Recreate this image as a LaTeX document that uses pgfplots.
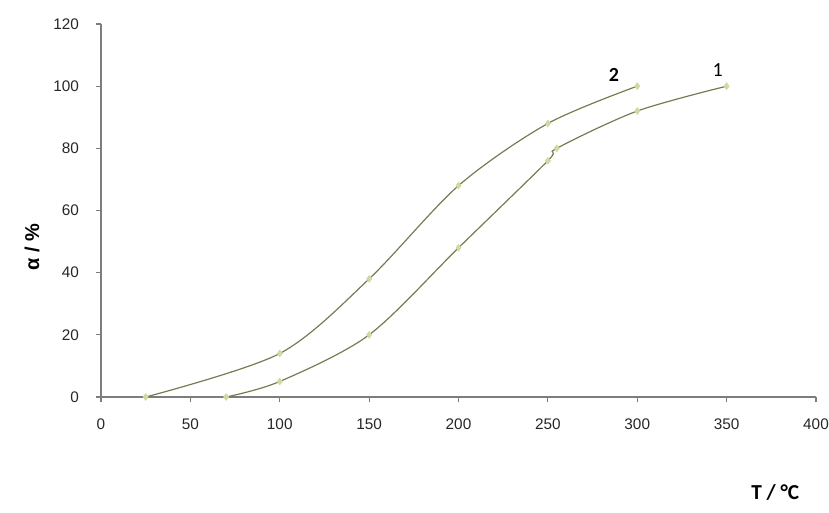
\documentclass[border=0pt]{standalone}
\usepackage{pgfplots}
\pgfplotsset{compat=1.18}
\usepackage{fontspec}
\setmainfont{Liberation Sans}
\newfontfamily\labelfont{Carlito}
\definecolor{curve}{RGB}{118,124,82}
\definecolor{dot}{RGB}{205,218,160}
\definecolor{axgray}{RGB}{125,125,125}
\begin{document}
\begin{tikzpicture}[x=1pt,y=1pt]
\path[use as bounding box] (0,0) rectangle (621.75,384);
\begin{axis}[
  at={(75.75pt,86.25pt)}, anchor=south west,
  scale only axis, width=536.25pt, height=279.75pt,
  xmin=0, xmax=400, ymin=0, ymax=120,
  xtick={0,50,...,400}, ytick={0,20,...,120},
  axis x line*=bottom, axis y line*=left,
  axis line style={axgray, line width=0.8pt},
  tick style={axgray, line width=0.8pt},
  major tick length=4pt, tick align=outside,
  tick label style={font=\fontsize{11.5}{13}\selectfont, text=black!85},
  /pgf/number format/assume math mode=true,
  xticklabel style={yshift=-9pt},
  yticklabel style={xshift=-9pt},
  xlabel={\labelfont\bfseries T / °C},
  xlabel style={font=\fontsize{16}{18}\selectfont, at={(rel axis cs:0.943,-0.255)}, anchor=center},
  ylabel={\bfseries α / \%},
  ylabel style={font=\fontsize{15}{17}\selectfont, at={(rel axis cs:-0.0965,0.402)}, anchor=center, rotate=0},
  clip=false,
]
% curve 1
\addplot[curve, line width=0.9pt, smooth, tension=0.5, mark=diamond*, mark size=2.2pt,
  mark options={draw=dot, fill=dot}]
  coordinates {(70,0) (100,5) (150,20) (200,48) (250,76) (255,80) (300,92) (350,100)};
% curve 2
\addplot[curve, line width=0.9pt, smooth, tension=0.5, mark=diamond*, mark size=2.2pt,
  mark options={draw=dot, fill=dot}]
  coordinates {(25,0) (100,14) (150,38) (200,68) (250,88) (300,100)};
\node[font=\labelfont\bfseries\fontsize{15}{17}\selectfont, anchor=base] at (axis cs:287,101.5) {2};
\node[font=\labelfont\fontsize{15}{17}\selectfont, anchor=base] at (axis cs:345,103) {1};
\end{axis}
\end{tikzpicture}
\end{document}
